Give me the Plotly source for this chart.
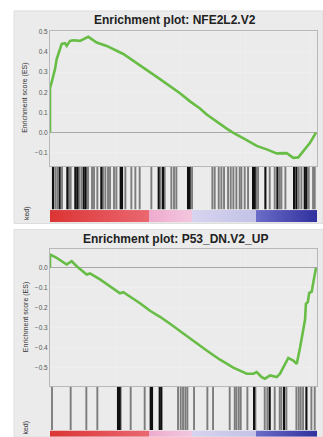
import plotly.graph_objects as go
import numpy as np

# ---------------- data ----------------
N_GENES = 20500

titles = ["Enrichment plot: NFE2L2.V2", "Enrichment plot: P53_DN.V2_UP"]

# running enrichment score, NFE2L2.V2
es1_rank = [0, 0, 130, 384, 514, 714, 898, 1152, 1282, 1536, 1789, 2303, 2941,
            3586, 4353, 5628, 6910, 8446, 9981, 10749, 11517, 12031, 13567,
            14050, 15103, 15870, 16638, 17406, 18174, 18681, 19065, 19449,
            19963, 20424]
es1_val = [0.0, 0.22, 0.25, 0.315, 0.365, 0.40, 0.44, 0.443, 0.43, 0.455,
           0.458, 0.455, 0.475, 0.447, 0.43, 0.39, 0.335, 0.265, 0.195, 0.155,
           0.12, 0.09, 0.02, 0.0, -0.037, -0.066, -0.083, -0.103, -0.102,
           -0.125, -0.123, -0.092, -0.05, 0.0]

# running enrichment score, P53_DN.V2_UP
es2_rank = [0, 0, 514, 1282, 1666, 2050, 2818, 3071, 3839, 4607, 5375, 5628,
            6396, 6910, 7678, 8446, 9214, 9981, 11002, 12031, 13053, 14074,
            15103, 15610, 15870, 16254, 16507, 16892, 17406, 17659, 18043,
            18297, 18681, 18942, 19196, 19449, 19580, 19650, 19800, 19900,
            20093, 20250, 20424]
es2_val = [0.0, 0.067, 0.05, 0.017, 0.033, 0.008, -0.033, -0.028, -0.058,
           -0.091, -0.127, -0.122, -0.154, -0.177, -0.215, -0.245, -0.28,
           -0.315, -0.365, -0.414, -0.46, -0.5, -0.53, -0.53, -0.522, -0.547,
           -0.555, -0.539, -0.547, -0.53, -0.481, -0.451, -0.464, -0.481,
           -0.40, -0.30, -0.26, -0.18, -0.17, -0.125, -0.12, -0.06, 0.0]

# gene-set member positions in the ranked list
hits1_strong = [230, 742, 1331, 1946, 2099, 2586, 2739, 3942, 5427, 5530,
                8346, 8678, 10598, 10726, 15590, 15718, 16538, 17459, 18739,
                18918, 19558, 19686]
hits1_weak = [410, 563, 922, 1459, 1587, 2227, 2406, 2918, 3226, 3379, 3635,
              4070, 4250, 4454, 4608, 4915, 5094, 5786, 6246, 6554, 6886,
              7782, 8499, 8806, 9318, 9523, 9702, 10906, 12467, 12646, 12954,
              13158, 13363, 13670, 13875, 14080, 14310, 14566, 14694, 14950,
              15206, 15846, 15974, 16870, 17254, 17638, 17766, 18074, 19098,
              19302, 19866, 20198, 20326]

hits2_strong = [5222, 5350, 7731, 7834, 8422, 8550, 15667, 16870, 17971, 19686]
hits2_weak = [154, 1587, 2790, 3635, 5427, 6195, 7270, 9830, 10035, 10214,
              10394, 10547, 11059, 12083, 12518, 13798, 14182, 14310, 14490,
              14643, 15155, 15770, 16486, 16691, 17254, 17638, 17766, 18150,
              18918, 19098, 19251, 19430, 20070, 20326]

grid_x = [5000, 10000, 15000, 20000]

# ---------------- layout geometry (page pixels) ----------------
W, H = 323, 437


def fy(px):
    return 1 - px / H


def fx(px):
    return px / W


def xa(n):
    return "x" if n == 1 else f"x{n}"


def ya(n):
    return "y" if n == 1 else f"y{n}"


x_dom = [fx(50), fx(317)]
panels = [
    dict(box=(14, 8, 323, 222), es=(28, 164), hits=(165, 208), bar=(208.5, 221),
         yr=[-0.165, 0.505], title_y=17, es_list=(es1_rank, es1_val),
         strong=hits1_strong, weak=hits1_weak, label_y=212),
    dict(box=(14, 228, 323, 437), es=(248, 385.7), hits=(386.5, 430), bar=(430.5, 437),
         yr=[-0.592, 0.093], title_y=238, es_list=(es2_rank, es2_val),
         strong=hits2_strong, weak=hits2_weak, label_y=428),
]

GREEN = "#67bd45"
TXT = "#333333"
FONT = "Liberation Sans"

# rank-metric colour ramp: red (positive) -> pink -> lavender -> blue (negative)
ramp = [[0.0, "#dc3434"], [0.366, "#ea6870"],
        [0.366, "#efaacd"], [0.528, "#f3c6de"],
        [0.528, "#d6d4ef"], [0.768, "#c4c2e6"],
        [0.768, "#6c6cc8"], [1.0, "#30309e"]]

fig = go.Figure()
shapes = []
annotations = []

for i, p in enumerate(panels):
    ax_es, ax_hit, ax_bar = 3 * i + 1, 3 * i + 2, 3 * i + 3
    x0, y0, x1, y1 = p["box"]
    shapes.append(dict(type="rect", xref="paper", yref="paper", layer="below",
                       x0=fx(x0), x1=fx(x1), y0=fy(y1), y1=fy(y0),
                       fillcolor="#ebebeb", line=dict(color="#dedede", width=1)))

    # running ES curve
    r, v = p["es_list"]
    fig.add_trace(go.Scatter(x=r, y=v, mode="lines", xaxis=xa(ax_es), yaxis=ya(ax_es),
                             line=dict(color=GREEN, width=2.6), hoverinfo="skip",
                             showlegend=False))

    # hit bars
    for hits, col, lw in ((p["weak"], "#7c7c7c", 1.9), (p["strong"], "#101010", 2.1)):
        hx, hy = [], []
        for h in hits:
            hx += [h, h, None]
            hy += [0, 1, None]
        fig.add_trace(go.Scatter(x=hx, y=hy, mode="lines", xaxis=xa(ax_hit),
                                 yaxis=ya(ax_hit), line=dict(color=col, width=lw),
                                 hoverinfo="skip", showlegend=False))

    # rank-metric colour strip
    edges = np.arange(0, N_GENES + 1, 100)
    fig.add_trace(go.Heatmap(x=edges, y=[0, 1], z=[edges[:-1]], zmin=0, zmax=N_GENES,
                             colorscale=ramp, showscale=False, hoverinfo="skip",
                             xaxis=xa(ax_bar), yaxis=ya(ax_bar)))

    es0, es1p = p["es"]
    h0, h1 = p["hits"]
    b0, b1 = p["bar"]
    common_x = dict(domain=x_dom, range=[0, N_GENES], showticklabels=False,
                    zeroline=False, ticks="")
    fig.layout[f"xaxis{'' if ax_es == 1 else ax_es}"] = dict(
        **common_x, showgrid=True, gridcolor="#eeeeee", gridwidth=1,
        tickvals=grid_x, anchor=ya(ax_es),
        showline=True, linecolor="#b8b8b8", mirror=True)
    fig.layout[f"yaxis{'' if ax_es == 1 else ax_es}"] = dict(
        domain=[fy(es1p), fy(es0)], range=p["yr"], dtick=0.1, tick0=0,
        tickformat=".1f", showgrid=True, gridcolor="#eeeeee",
        zeroline=True, zerolinecolor="#a8a8a8", zerolinewidth=1,
        showline=True, linecolor="#b8b8b8", mirror=True, ticks="",
        tickfont=dict(size=6.5, color="#555555", family=FONT),
        anchor=xa(ax_es))
    fig.layout[f"xaxis{ax_hit}"] = dict(**common_x, showgrid=False, anchor=ya(ax_hit))
    fig.layout[f"yaxis{ax_hit}"] = dict(domain=[fy(h1), fy(h0)], range=[0, 1],
                                        visible=False, anchor=xa(ax_hit))
    fig.layout[f"xaxis{ax_bar}"] = dict(**common_x, showgrid=False, anchor=ya(ax_bar))
    fig.layout[f"yaxis{ax_bar}"] = dict(domain=[fy(b1), fy(b0)], range=[0, 1],
                                        visible=False, anchor=xa(ax_bar))

    annotations.append(dict(text=f"<b>{titles[i]}</b>", xref="paper", yref="paper",
                            x=fx(175), y=fy(p["title_y"]), showarrow=False,
                            xanchor="center", yanchor="middle",
                            font=dict(size=12, color="#222222", family=FONT)))
    annotations.append(dict(text="Enrichment score (ES)", xref="paper", yref="paper",
                            x=fx(25.5), y=fy((es0 + es1p) / 2), showarrow=False,
                            textangle=-90, xanchor="center", yanchor="middle",
                            font=dict(size=7, color=TXT, family=FONT)))
    annotations.append(dict(text="ked)", xref="paper", yref="paper",
                            x=fx(26.5), y=fy(p["label_y"]), showarrow=False,
                            textangle=-90, xanchor="center", yanchor="middle",
                            font=dict(size=7, color=TXT, family=FONT)))

fig.update_layout(width=W, height=H, margin=dict(l=0, r=0, t=0, b=0),
                  paper_bgcolor="white", plot_bgcolor="white",
                  shapes=shapes, annotations=annotations,
                  font=dict(family=FONT))

fig.write_html("out.html")
